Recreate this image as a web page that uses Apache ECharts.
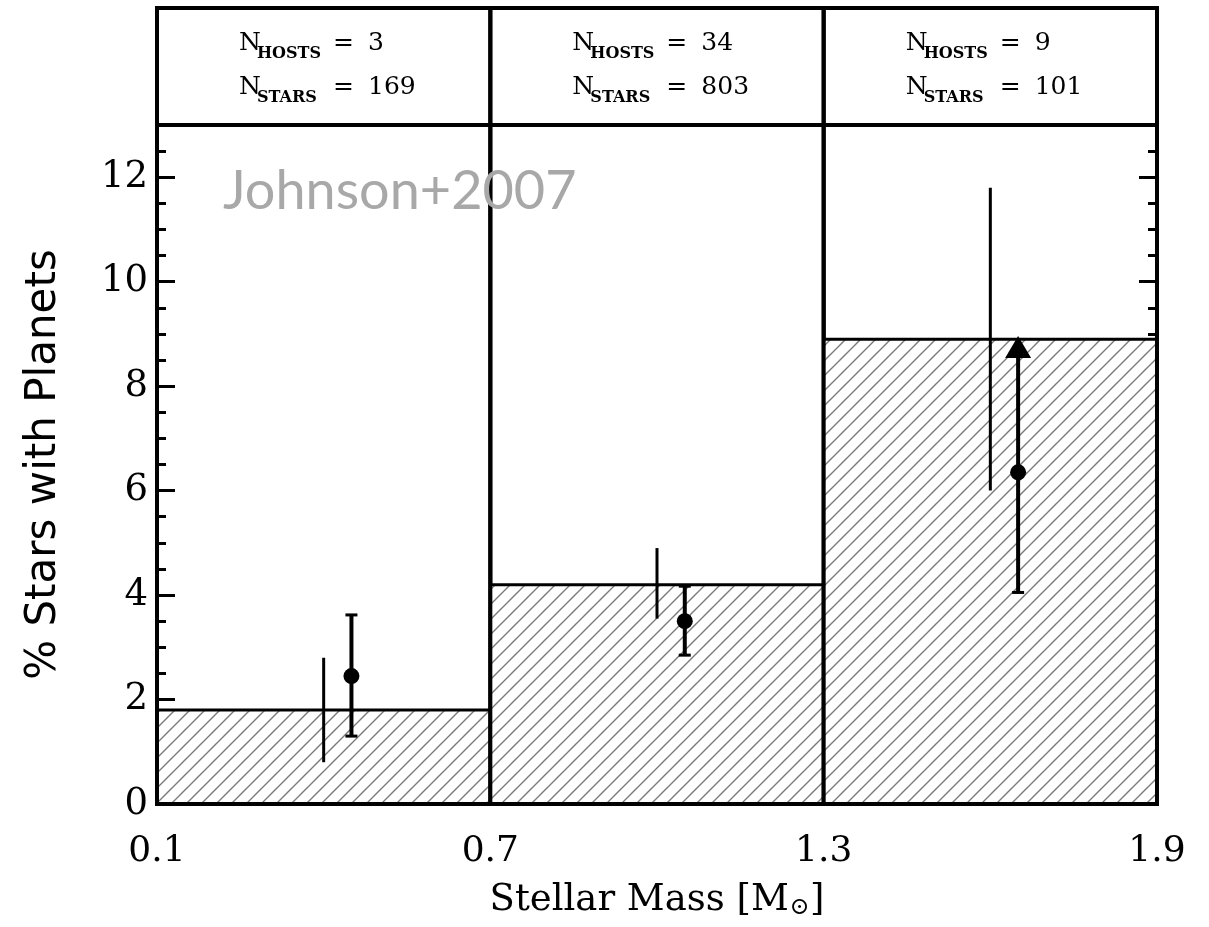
<!DOCTYPE html>
<html>
<head>
<meta charset="utf-8">
<script src="https://cdn.jsdelivr.net/npm/echarts@6/dist/echarts.min.js"></script>
<style>
  html, body { margin: 0; padding: 0; background: #fff; }
  #chart { width: 1209px; height: 927px; }
</style>
</head>
<body>
<div id="chart"></div>
<script>
// histogram bins (stellar mass) and fraction of stars with planets
var binEdges = [0.1, 0.7, 1.3, 1.9];
var binPercent = [1.8, 4.2, 8.9];
var nHosts = [3, 34, 9];
var nStars = [169, 803, 101];

// plain vertical ranges (no caps)
var rangeX = [0.4, 1.0, 1.6];
var rangeLow = [0.8, 3.55, 6.0];
var rangeHigh = [2.8, 4.9, 11.8];

// points with error bars
var pointX = [0.45, 1.05, 1.65];
var pointY = [2.45, 3.5, 6.35];
var pointLow = [1.3, 2.85, 4.05];
var pointHigh = [3.62, 4.17, 8.75];
var pointUpperLimit = [false, false, true];

// tick labels
var xTicks = [0.1, 0.7, 1.3, 1.9];
var yTicks = [0, 2, 4, 6, 8, 10, 12];
var yMax = 13;

var serif = '"DejaVu Serif", serif';

// diagonal hatch pattern
function makeHatch() {
  var s = 15;
  var c = document.createElement('canvas');
  c.width = s; c.height = s;
  var g = c.getContext('2d');
  g.fillStyle = '#fff';
  g.fillRect(0, 0, s, s);
  g.strokeStyle = '#7a7a7a';
  g.lineWidth = 1.4;
  g.beginPath();
  g.moveTo(0, s); g.lineTo(s, 0);
  g.moveTo(-s, s); g.lineTo(s, -s);
  g.moveTo(0, 2 * s); g.lineTo(2 * s, 0);
  g.stroke();
  return c;
}
var hatch = makeHatch();

var binData = binPercent.map(function (h, i) { return [binEdges[i], binEdges[i + 1], h]; });
var headerData = nHosts.map(function (n, i) { return [binEdges[i], binEdges[i + 1], n, nStars[i]]; });
var rangeData = rangeX.map(function (x, i) { return [x, rangeLow[i], rangeHigh[i]]; });
var errData = pointX.map(function (x, i) { return [x, pointLow[i], pointHigh[i], pointUpperLimit[i] ? 1 : 0]; });
var pointData = pointX.map(function (x, i) { return [x, pointY[i]]; });
var limitData = [];
pointX.forEach(function (x, i) { if (pointUpperLimit[i]) limitData.push([x, pointHigh[i]]); });

var myChart = echarts.init(document.getElementById('chart'));

function txt(x, y, text, font) {
  return { type: 'text', x: x, y: y, style: { text: text, font: font, fill: '#000', verticalAlign: 'bottom' } };
}

var option = {
  backgroundColor: '#fff',
  animation: false,
  grid: [
    { left: 157, top: 125, width: 1000, height: 679 },
    { left: 157, top: 8, width: 1000, height: 117 }
  ],
  xAxis: [
    {
      gridIndex: 0, type: 'value', min: 0.1, max: 1.9,
      axisLine: { lineStyle: { color: '#000', width: 4 } },
      axisTick: { show: false },
      splitLine: { show: false },
      axisLabel: {
        customValues: xTicks,
        formatter: function (v) { return v.toFixed(1); },
        fontFamily: serif, fontSize: 36, color: '#000', margin: 30
      },
      name: 'Stellar Mass [M{sub|⊙}]',
      nameLocation: 'middle',
      nameGap: 76,
      nameTextStyle: {
        fontFamily: serif, fontSize: 37, color: '#000',
        rich: { sub: { fontFamily: serif, fontSize: 24, color: '#000', padding: [16, 0, 0, 1] } }
      }
    },
    { gridIndex: 1, type: 'value', min: 0.1, max: 1.9, show: false }
  ],
  yAxis: [
    {
      gridIndex: 0, type: 'value', position: 'left', offset: 0,
      min: 0, max: yMax, interval: 2,
      axisLine: { show: true, lineStyle: { color: '#000', width: 4 } },
      axisTick: { show: true, inside: true, length: 18, lineStyle: { color: '#000', width: 3 } },
      splitLine: { show: false },
      axisLabel: { customValues: yTicks, fontFamily: serif, fontSize: 37, color: '#000', margin: 9 },
      name: '% Stars with Planets',
      nameLocation: 'middle',
      nameGap: 92,
      nameTextStyle: { fontFamily: '"DejaVu Sans", sans-serif', fontSize: 42, color: '#000' }
    },
    {
      gridIndex: 0, type: 'value', position: 'left', offset: 0,
      min: 0, max: yMax, interval: 0.5,
      axisLine: { show: false },
      axisTick: { show: true, inside: true, length: 9, lineStyle: { color: '#000', width: 3 } },
      splitLine: { show: false },
      axisLabel: { show: false }
    },
    {
      gridIndex: 0, type: 'value', position: 'right', offset: 0,
      min: 0, max: yMax, interval: 2,
      axisLine: { show: true, lineStyle: { color: '#000', width: 4 } },
      axisTick: { show: true, inside: true, length: 18, lineStyle: { color: '#000', width: 3 } },
      splitLine: { show: false },
      axisLabel: { show: false }
    },
    {
      gridIndex: 0, type: 'value', position: 'right', offset: 0,
      min: 0, max: yMax, interval: 0.5,
      axisLine: { show: false },
      axisTick: { show: true, inside: true, length: 9, lineStyle: { color: '#000', width: 3 } },
      splitLine: { show: false },
      axisLabel: { show: false }
    },
    { gridIndex: 1, type: 'value', min: 0, max: 1, show: false }
  ],
  graphic: [
    {
      type: 'text', left: 223, top: 165, z: 10,
      style: { text: 'Johnson+2007', font: '54px Lato', fill: '#a8a8a8' }
    }
  ],
  series: [
    {
      // hatched histogram + bin outlines
      type: 'custom', xAxisIndex: 0, yAxisIndex: 0,
      data: binData,
      encode: { x: [0, 1], y: 2 },
      renderItem: function (params, api) {
        var p0 = api.coord([api.value(0), 0]);
        var p1 = api.coord([api.value(1), api.value(2)]);
        var pt = api.coord([api.value(1), yMax]);
        return {
          type: 'group',
          children: [
            { type: 'rect', shape: { x: p0[0], y: p1[1], width: p1[0] - p0[0], height: p0[1] - p1[1] },
              style: { fill: { image: hatch, repeat: 'repeat' } } },
            { type: 'line', shape: { x1: p0[0], y1: p1[1], x2: p1[0], y2: p1[1] },
              style: { stroke: '#000', lineWidth: 3 } },
            { type: 'rect', shape: { x: p0[0], y: pt[1], width: p1[0] - p0[0], height: p0[1] - pt[1] },
              style: { fill: 'none', stroke: '#000', lineWidth: 4 } }
          ]
        };
      }
    },
    {
      // header cells with counts
      type: 'custom', xAxisIndex: 1, yAxisIndex: 4,
      data: headerData,
      encode: { x: [0, 1] },
      renderItem: function (params, api) {
        var a = api.coord([api.value(0), 1]);
        var b = api.coord([api.value(1), 0]);
        var x0 = a[0] + 82;
        var big = '25px ' + serif;
        var small = 'bold 16px ' + serif;
        var children = [
          { type: 'rect', shape: { x: a[0], y: a[1], width: b[0] - a[0], height: b[1] - a[1] },
            style: { fill: 'none', stroke: '#000', lineWidth: 4 } }
        ];
        var rows = [[a[1] + 42, 'HOSTS', api.value(2)], [a[1] + 86, 'STARS', api.value(3)]];
        rows.forEach(function (r) {
          var base = r[0];
          children.push(txt(x0, base + 6, 'N', big));
          children.push(txt(x0 + 18, base + 12, r[1], small));
          children.push(txt(x0 + 94, base + 6, '=', big));
          children.push(txt(x0 + 129, base + 6, String(r[2]), big));
        });
        return { type: 'group', children: children };
      }
    },
    {
      // plain vertical ranges
      type: 'custom', xAxisIndex: 0, yAxisIndex: 0,
      data: rangeData,
      encode: { x: 0, y: [1, 2] },
      z: 3,
      renderItem: function (params, api) {
        var lo = api.coord([api.value(0), api.value(1)]);
        var hi = api.coord([api.value(0), api.value(2)]);
        return { type: 'line', shape: { x1: lo[0], y1: lo[1], x2: hi[0], y2: hi[1] },
          style: { stroke: '#000', lineWidth: 3 } };
      }
    },
    {
      // error bars of the points
      type: 'custom', xAxisIndex: 0, yAxisIndex: 0,
      data: errData,
      encode: { x: 0, y: [1, 2] },
      z: 3,
      renderItem: function (params, api) {
        var lo = api.coord([api.value(0), api.value(1)]);
        var hi = api.coord([api.value(0), api.value(2)]);
        var w = 6;
        var children = [
          { type: 'line', shape: { x1: lo[0], y1: lo[1], x2: hi[0], y2: hi[1] }, style: { stroke: '#000', lineWidth: 4 } },
          { type: 'line', shape: { x1: lo[0] - w, y1: lo[1], x2: lo[0] + w, y2: lo[1] }, style: { stroke: '#000', lineWidth: 3 } }
        ];
        if (!api.value(3)) {
          children.push({ type: 'line', shape: { x1: hi[0] - w, y1: hi[1], x2: hi[0] + w, y2: hi[1] }, style: { stroke: '#000', lineWidth: 3 } });
        }
        return { type: 'group', children: children };
      }
    },
    {
      type: 'scatter', xAxisIndex: 0, yAxisIndex: 0,
      data: pointData,
      symbol: 'circle', symbolSize: 16,
      itemStyle: { color: '#000', opacity: 1 },
      z: 4
    },
    {
      type: 'scatter', xAxisIndex: 0, yAxisIndex: 0,
      data: limitData,
      symbol: 'triangle', symbolSize: [26, 22],
      itemStyle: { color: '#000', opacity: 1 },
      z: 4
    }
  ]
};

myChart.setOption(option);
</script>
</body>
</html>
